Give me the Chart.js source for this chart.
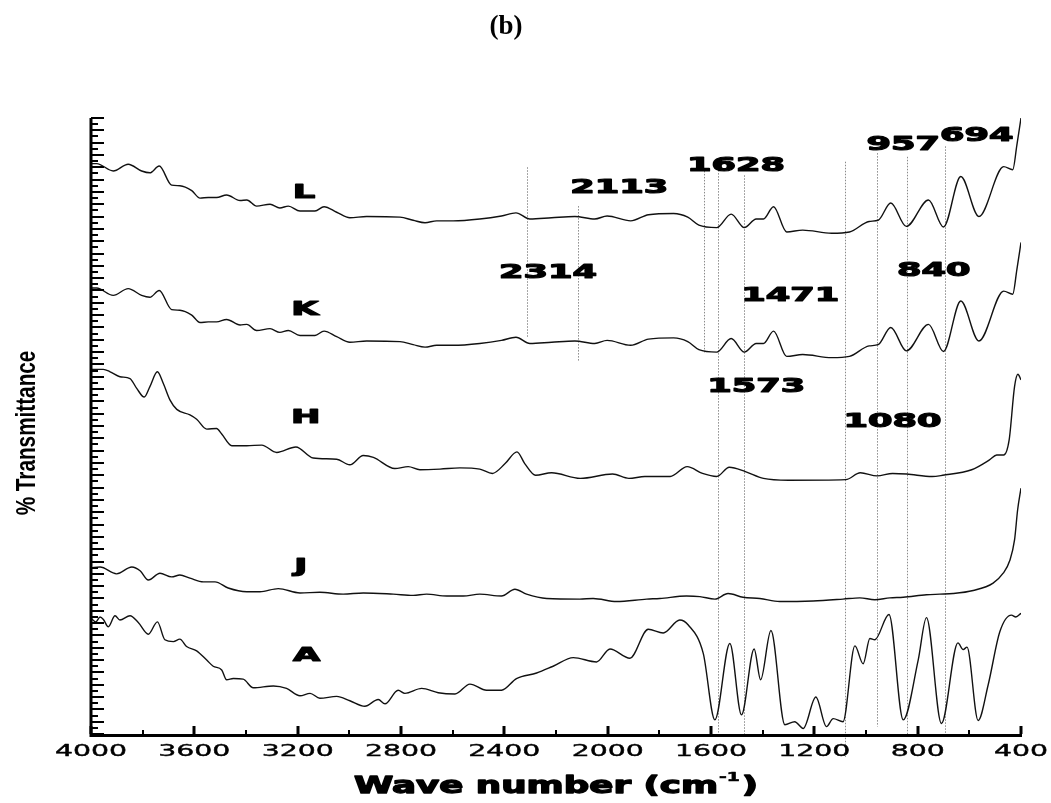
<!DOCTYPE html>
<html>
<head>
<meta charset="utf-8">
<title>FTIR spectra (b)</title>
<script src="https://cdn.jsdelivr.net/npm/chart.js@4.4.0/dist/chart.umd.min.js"></script>
<style>
html, body { margin: 0; padding: 0; background: #fff; overflow: hidden; }
canvas { display: block; }
</style>
</head>
<body>
<canvas id="ftir-chart" width="1051" height="803"></canvas>
<script>
// wavenumber (cm-1) / % transmittance
var wnLK = [4000, 3978, 3914, 3856, 3804, 3772, 3736, 3688, 3656, 3610, 3578, 3546, 3514, 3475, 3423, 3397, 3359, 3307, 3269, 3236,
    3191, 3133, 3098, 3049, 2998, 2933, 2804, 2753, 2707, 2662, 2598, 2495, 2411, 2355, 2301, 2217, 2127, 2050, 2002, 1911,
    1842, 1745, 1690, 1647, 1578, 1522, 1471, 1425, 1397, 1358, 1307, 1245, 1133, 1064, 988, 953, 904, 844, 758, 700,
    633, 563, 467, 432, 416, 400];
var trL = [92.6, 92.6, 91.4, 92.5, 91.4, 91.1, 92.2, 89.1, 89.0, 88.2, 87.0, 87.1, 87.1, 87.5, 86.6, 86.7, 85.7, 86.0, 85.4, 85.7,
    84.9, 84.9, 85.6, 84.7, 83.8, 84.0, 83.9, 83.4, 83.0, 83.3, 83.3, 83.6, 84.1, 84.6, 83.6, 83.8, 84.0, 83.6, 84.1, 83.3,
    84.3, 84.5, 83.9, 82.6, 82.2, 84.4, 82.2, 83.6, 83.6, 85.6, 81.5, 81.8, 81.3, 81.5, 83.2, 83.4, 86.2, 82.4, 86.7, 82.3,
    90.5, 84.0, 92.1, 91.6, 95.6, 100];
var trK = [72.4, 72.4, 71.2, 72.3, 71.2, 70.9, 72.0, 68.9, 68.8, 68.0, 66.8, 66.9, 66.9, 67.3, 66.4, 66.5, 65.5, 65.8, 65.2, 65.5,
    64.7, 64.7, 65.4, 64.5, 63.6, 63.8, 63.7, 63.2, 62.8, 63.1, 63.1, 63.4, 63.9, 64.4, 63.4, 63.6, 63.8, 63.4, 63.9, 63.1,
    64.1, 64.3, 63.7, 62.4, 62.0, 64.2, 62.0, 63.4, 63.4, 65.4, 61.3, 61.6, 61.1, 61.3, 63.0, 63.2, 66.0, 62.2, 66.5, 62.1,
    70.3, 63.8, 71.9, 71.4, 75.4, 79.8];

var wnH = [4000, 3952, 3926, 3888, 3849, 3823, 3794, 3772, 3743, 3720, 3694, 3668, 3617, 3591, 3552, 3514, 3494, 3455, 3397, 3339,
    3281, 3207, 3140, 3049, 2998, 2946, 2907, 2824, 2772, 2727, 2649, 2572, 2495, 2446, 2397, 2351, 2321, 2279, 2217, 2106,
    1981, 1918, 1856, 1758, 1692, 1633, 1578, 1529, 1467, 1397, 1300, 1078, 1022, 957, 897, 842, 744, 703, 591, 522,
    494, 467, 446, 425, 412, 400];
var trH = [59.2, 59.2, 58.8, 58.0, 57.7, 56.1, 54.7, 56.4, 58.8, 56.9, 54.2, 52.7, 51.8, 51.1, 49.5, 49.6, 48.7, 46.8, 46.8, 46.9,
    45.7, 46.6, 44.8, 44.6, 43.7, 45.2, 44.9, 43.1, 43.4, 42.9, 43.0, 43.2, 43.0, 42.3, 43.9, 45.8, 43.9, 42.0, 42.4, 41.5,
    42.2, 41.5, 41.8, 41.8, 43.4, 42.3, 41.8, 43.3, 42.6, 41.5, 41.2, 41.3, 42.4, 41.9, 42.3, 42.2, 41.8, 42.0, 42.9, 44.5,
    45.3, 45.3, 47.7, 56.4, 58.4, 57.5];

var wnJ = [4000, 3965, 3901, 3842, 3810, 3778, 3733, 3688, 3656, 3617, 3565, 3520, 3469, 3397, 3346, 3275, 3191, 3114, 3024, 2946,
    2830, 2753, 2701, 2623, 2559, 2495, 2411, 2359, 2314, 2236, 2108, 2056, 1966, 1849, 1798, 1695, 1643, 1585, 1534, 1476,
    1411, 1334, 1205, 1089, 1024, 966, 908, 856, 766, 714, 663, 585, 508, 469, 443, 425, 413, 400];
var trJ = [27.0, 27.1, 26.0, 27.1, 26.5, 25.0, 26.1, 25.5, 25.8, 25.3, 24.7, 24.7, 23.7, 23.1, 23.1, 23.6, 22.9, 23.0, 22.7, 22.9,
    22.7, 22.5, 22.7, 22.4, 22.4, 22.7, 22.4, 23.5, 22.7, 22.0, 21.9, 22.0, 21.5, 21.9, 22.0, 22.4, 22.3, 21.9, 22.8, 22.2,
    22.0, 21.5, 21.6, 21.9, 22.1, 21.8, 22.1, 22.2, 22.6, 22.7, 22.8, 23.3, 24.5, 26.1, 28.2, 31.5, 36.4, 39.9];

var wnA = [4000, 3981, 3965, 3952, 3933, 3907, 3888, 3849, 3817, 3778, 3743, 3714, 3681, 3656, 3630, 3591, 3552, 3527, 3494, 3475,
    3449, 3411, 3372, 3294, 3243, 3191, 3152, 3114, 3049, 2998, 2940, 2888, 2862, 2811, 2785, 2720, 2656, 2591, 2533, 2469,
    2411, 2353, 2275, 2211, 2133, 2043, 1991, 1914, 1843, 1785, 1721, 1688, 1630, 1585, 1527, 1482, 1433, 1408, 1368, 1314,
    1276, 1243, 1194, 1153, 1127, 1089, 1043, 1011, 985, 966, 911, 856, 798, 766, 708, 644, 624, 609, 566, 527,
    482, 437, 420, 400];
var trA = [18.8, 18.2, 19.0, 18.6, 17.4, 19.2, 18.5, 19.2, 18.1, 16.2, 18.2, 15.3, 15.0, 15.4, 14.2, 13.5, 12.0, 11.0, 10.4, 8.8,
    9.0, 8.9, 7.5, 7.8, 7.4, 6.2, 6.6, 5.8, 6.1, 5.4, 4.5, 5.6, 4.9, 7.1, 6.6, 7.4, 6.7, 6.5, 8.1, 7.1,
    7.1, 9.0, 9.9, 11.0, 12.4, 11.7, 13.8, 12.3, 17.0, 16.4, 18.5, 17.7, 13.1, 2.3, 14.7, 3.1, 13.8, 8.8, 16.8, 1.5,
    2.0, 0.9, 6.0, 1.2, 2.5, 2.0, 14.3, 11.4, 15.5, 15.3, 19.4, 2.3, 12.0, 18.9, 1.7, 14.8, 13.7, 14.1, 2.2, 8.0,
    16.6, 19.3, 19.0, 19.6];

var xTickValues = [4000, 3600, 3200, 2800, 2400, 2000, 1600, 1200, 800, 400];

// dotted band markers
var bandLines = [2314, 2113, 1628, 1573, 1471, 1080, 957, 840, 694];
var bandTop = [92.0, 85.7, 91.9, 93.0, 90.7, 92.9, 94.3, 93.7, 95.4];
var bandBottom = [64.4, 60.4, 61.9, 0, 0, -3.7, 1.2, 0, 0];

var bandLabels = ['2113', '1628', '957', '694', '2314', '840', '1471', '1573', '1080'];
var bandLabelWn = [1955, 1503, 856, 571, 2231, 738, 1293, 1425, 897];
var bandLabelTr = [88.7, 92.3, 95.6, 97.1, 74.9, 75.2, 71.1, 56.3, 50.7];

var sampleNames = ['L', 'K', 'H', 'J', 'A'];
var sampleLabelWn = [3176, 3172, 3169, 3188, 3165];
var sampleLabelTr = [87.8, 68.8, 51.4, 27.2, 12.7];

function toPoints(wn, tr) {
    return wn.map(function (w, i) { return { x: w, y: tr[i] }; });
}

function spectrum(label, wn, tr) {
    return {
        label: label,
        data: toPoints(wn, tr),
        borderColor: '#111',
        borderWidth: 1.4,
        pointRadius: 0,
        fill: false,
        cubicInterpolationMode: 'monotone'
    };
}

// stretched text; heavy adds a thin outline to fatten the glyphs
function wideText(ctx, text, x, y, font, sx, heavy) {
    ctx.save();
    ctx.font = font;
    ctx.translate(x, y);
    ctx.scale(sx, 1);
    ctx.fillText(text, 0, 0);
    if (heavy) {
        ctx.lineWidth = heavy;
        ctx.lineJoin = 'round';
        ctx.strokeText(text, 0, 0);
    }
    ctx.restore();
}

var bandLinePlugin = {
    id: 'bandLines',
    beforeDatasetsDraw: function (chart) {
        var ctx = chart.ctx;
        var xs = chart.scales.x, ys = chart.scales.y;
        ctx.save();
        ctx.strokeStyle = '#8a8a8a';
        ctx.lineWidth = 1;
        ctx.setLineDash([1.5, 1.5]);
        bandLines.forEach(function (w, i) {
            var px = Math.round(xs.getPixelForValue(w)) + 0.5;
            ctx.beginPath();
            ctx.moveTo(px, ys.getPixelForValue(bandTop[i]));
            ctx.lineTo(px, ys.getPixelForValue(bandBottom[i]));
            ctx.stroke();
        });
        ctx.restore();
    }
};

var framePlugin = {
    id: 'ftirFrame',
    afterDraw: function (chart) {
        var ctx = chart.ctx;
        var xs = chart.scales.x, ys = chart.scales.y;
        var left = xs.getPixelForValue(4000), right = xs.getPixelForValue(400);
        var top = ys.getPixelForValue(100), bottom = ys.getPixelForValue(0);
        ctx.save();
        ctx.fillStyle = '#000';
        ctx.strokeStyle = '#000';

        // axis lines
        ctx.lineWidth = 3;
        ctx.beginPath();
        ctx.moveTo(left, top);
        ctx.lineTo(left, bottom + 1.5);
        ctx.lineTo(right + 1, bottom + 1.5);
        ctx.stroke();

        // y ticks, pointing inward
        ctx.lineWidth = 2;
        for (var v = 0; v <= 100; v++) {
            var py = Math.round(ys.getPixelForValue(v));
            var len = v % 2 === 0 ? 13 : 7;
            ctx.beginPath();
            ctx.moveTo(left, py);
            ctx.lineTo(left + len, py);
            ctx.stroke();
        }

        // x ticks, pointing up
        for (var w = 400; w <= 4000; w += 200) {
            var px = Math.round(xs.getPixelForValue(w));
            var major = w % 400 === 0;
            ctx.lineWidth = major ? 3 : 2;
            ctx.beginPath();
            ctx.moveTo(px, bottom);
            ctx.lineTo(px, bottom - (major ? 8 : 4));
            ctx.stroke();
        }

        ctx.textAlign = 'center';
        ctx.textBaseline = 'middle';
        xTickValues.forEach(function (t) {
            wideText(ctx, String(t), xs.getPixelForValue(t), bottom + 18, '16px "DejaVu Sans"', 1.77, 0.4);
        });

        // band and sample labels
        bandLabels.forEach(function (t, i) {
            wideText(ctx, t, xs.getPixelForValue(bandLabelWn[i]), ys.getPixelForValue(bandLabelTr[i]),
                'bold 20px "DejaVu Sans"', 1.76, 1.2);
        });
        sampleNames.forEach(function (t, i) {
            wideText(ctx, t, xs.getPixelForValue(sampleLabelWn[i]), ys.getPixelForValue(sampleLabelTr[i]),
                'bold 20px "DejaVu Sans"', 1.76, 1.2);
        });

        // x axis title with superscript
        var sx = 1.55;
        var bigFont = 'bold 23px "DejaVu Sans"', supFont = 'bold 12px "DejaVu Sans"';
        ctx.font = bigFont;
        var w1 = ctx.measureText('Wave number (cm').width;
        var w3 = ctx.measureText(')').width;
        ctx.font = supFont;
        var w2 = ctx.measureText('-1').width + 2;
        var total = (w1 + w2 + w3) * sx;
        var x0 = (left + right) / 2 - total / 2;
        var ty = 785;
        ctx.textAlign = 'left';
        ctx.textBaseline = 'alphabetic';
        wideText(ctx, 'Wave number (cm', x0, ty + 8, bigFont, sx, 1.3);
        wideText(ctx, '-1', x0 + w1 * sx + 1, ty - 4, supFont, sx, 0.6);
        wideText(ctx, ')', x0 + (w1 + w2) * sx, ty + 8, bigFont, sx, 1.3);

        // y axis title, condensed
        ctx.save();
        ctx.textAlign = 'center';
        ctx.textBaseline = 'middle';
        ctx.font = 'bold 28px "Liberation Sans"';
        ctx.translate(27, 433);
        ctx.rotate(-Math.PI / 2);
        ctx.scale(0.74, 1);
        ctx.fillText('% Transmittance', 0, 0);
        ctx.restore();

        // panel tag
        ctx.textAlign = 'center';
        ctx.textBaseline = 'middle';
        ctx.font = 'bold 27px "Liberation Serif"';
        ctx.fillText('(b)', 506, 27);
        ctx.restore();
    }
};

var ctx = document.getElementById('ftir-chart').getContext('2d');
new Chart(ctx, {
    type: 'line',
    data: {
        datasets: [
            spectrum('L', wnLK, trL),
            spectrum('K', wnLK, trK),
            spectrum('H', wnH, trH),
            spectrum('J', wnJ, trJ),
            spectrum('A', wnA, trA)
        ]
    },
    options: {
        responsive: false,
        animation: false,
        devicePixelRatio: 1,
        layout: { padding: { left: 91, right: 30, top: 118, bottom: 69 } },
        scales: {
            x: { type: 'linear', min: 400, max: 4000, reverse: true, display: false },
            y: { type: 'linear', min: 0, max: 100, display: false }
        },
        plugins: {
            legend: { display: false },
            tooltip: { enabled: false }
        },
        elements: { line: { tension: 0.4 } }
    },
    plugins: [bandLinePlugin, framePlugin]
});
</script>
</body>
</html>
